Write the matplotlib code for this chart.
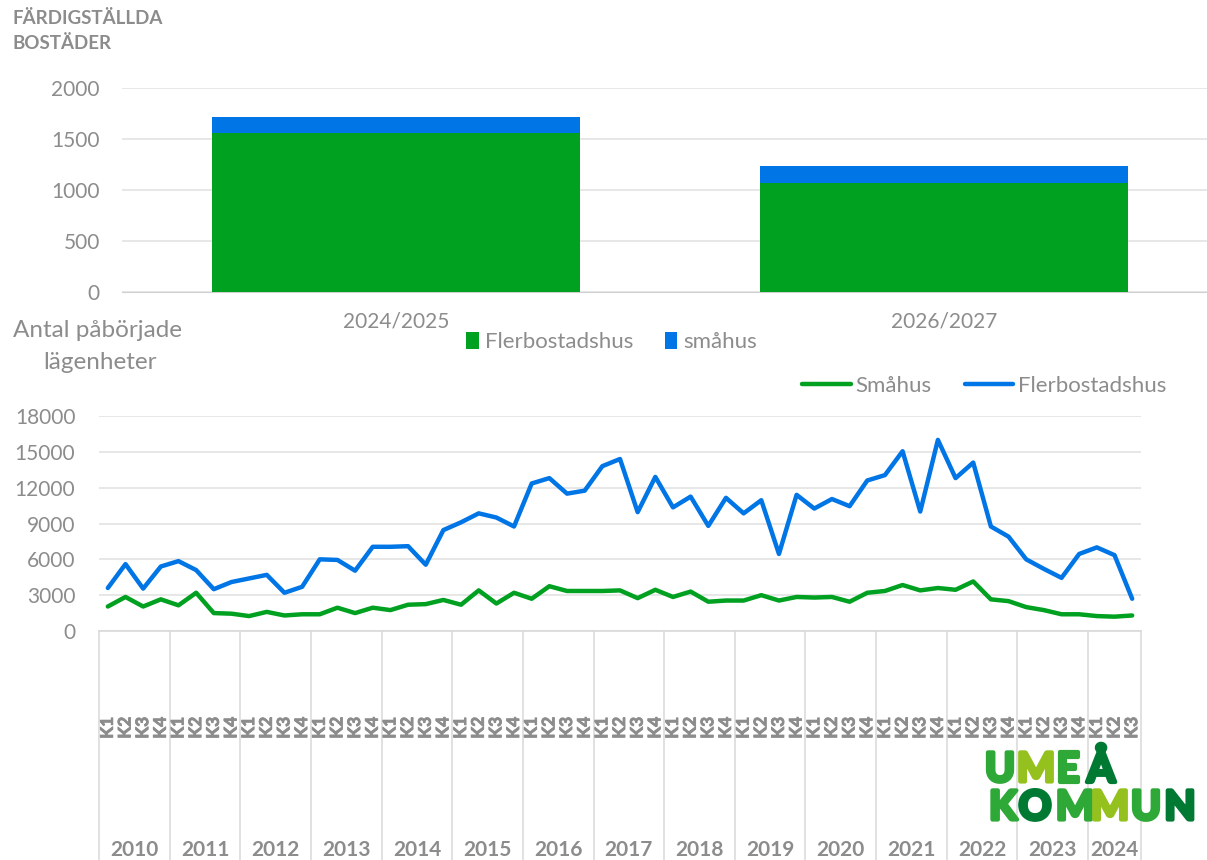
import matplotlib.pyplot as plt
import matplotlib.patheffects as pe
import numpy as np

plt.rcParams['font.family'] = ['Lato', 'DejaVu Sans']

GREEN = '#00a020'
BLUE = '#0075e6'
GREY = '#8c8c8c'
GRID = '#e3e3e3'

# Färdigställda bostäder (prognos)
perioder = ['2024/2025', '2026/2027']
flerbostadshus_klara = [1555, 1065]
smahus_klara = [165, 170]

# Påbörjade lägenheter per kvartal, 2010 K1 - 2024 K3
ar = [str(a) for a in range(2010, 2025)]
kvartal = ['K1', 'K2', 'K3', 'K4']
smahus = [2050, 2850, 2050, 2650, 2150, 3200, 1500, 1450, 1250, 1600, 1300, 1400,
          1400, 1950, 1500, 1950, 1750, 2200, 2250, 2600, 2200, 3400, 2300, 3200,
          2700, 3750, 3350, 3350, 3350, 3400, 2750, 3450, 2850, 3300, 2450, 2550,
          2550, 3000, 2550, 2850, 2800, 2850, 2450, 3200, 3350, 3850, 3400, 3600,
          3450, 4150, 2650, 2500, 2000, 1750, 1400, 1400, 1250, 1200, 1300]
flerbostadshus = [3600, 5600, 3550, 5400, 5850, 5100, 3500, 4100, 4400, 4700, 3200, 3700,
                  6000, 5950, 5050, 7050, 7050, 7100, 5550, 8450, 9100, 9850, 9500, 8750,
                  12350, 12800, 11500, 11750, 13800, 14400, 9950, 12900, 10350, 11250, 8800, 11150,
                  9850, 10950, 6450, 11400, 10250, 11050, 10450, 12600, 13050, 15050, 10000, 16000,
                  12800, 14100, 8750, 7900, 6000, 5200, 4450, 6450, 7000, 6350, 2700]

fig = plt.figure(figsize=(12.07, 8.6), dpi=100)

# ---- övre diagrammet ----
ax1 = fig.add_axes([122/1207, 1-292/860, (1207-122)/1207, 204/860])
x1 = np.arange(len(perioder))
ax1.bar(x1, flerbostadshus_klara, width=0.67, color=GREEN, label='Flerbostadshus', zorder=3)
ax1.bar(x1, smahus_klara, width=0.67, bottom=flerbostadshus_klara, color=BLUE, label='småhus', zorder=3)
ax1.set_xlim(-0.5, 1.48)
ax1.set_ylim(0, 2000)
ax1.set_yticks(range(0, 2001, 500))
ax1.set_xticks(x1)
ax1.set_xticklabels(perioder)
ax1.grid(axis='y', color=GRID, lw=1.2, zorder=0)
for s in ['top', 'right', 'left']:
    ax1.spines[s].set_visible(False)
ax1.spines['bottom'].set_color('#d0d0d0')
ax1.tick_params(axis='y', length=0, pad=16, labelsize=15, labelcolor=GREY)
ax1.tick_params(axis='x', length=0, pad=14, labelsize=15, labelcolor=GREY)
ax1.legend(loc='center', bbox_to_anchor=(612/1207, 1-342/860), bbox_transform=fig.transFigure,
           ncol=2, frameon=False, fontsize=16, labelcolor=GREY, handlelength=0.55,
           handleheight=0.85, handletextpad=0.3, columnspacing=1.4)
fig.text(12/1207, 1-10/860, 'FÄRDIGSTÄLLDA\nBOSTÄDER', ha='left', va='top',
         fontsize=13.5, fontweight='bold', color=GREY, linespacing=1.55)

# ---- nedre diagrammet ----
ax2 = fig.add_axes([99/1207, 1-631/860, (1141-99)/1207, 215/860])
n = len(smahus)
x2 = np.arange(n) + 0.5
ax2.plot(x2, smahus, color=GREEN, lw=3.2, label='Småhus', solid_capstyle='round', zorder=3)
ax2.plot(x2, flerbostadshus, color=BLUE, lw=3.2, label='Flerbostadshus', solid_capstyle='round', zorder=3)
ax2.set_xlim(0, n)
ax2.set_ylim(0, 18000)
ax2.set_yticks(range(0, 18001, 3000))
ax2.set_xticks([])
ax2.grid(axis='y', color=GRID, lw=1.2, zorder=0)
for s in ['top', 'right', 'left']:
    ax2.spines[s].set_visible(False)
ax2.spines['bottom'].set_color('#d9d9d9')
ax2.spines['bottom'].set_linewidth(1.2)
ax2.tick_params(axis='y', length=0, pad=17, labelsize=15, labelcolor=GREY)
ax2.legend(loc='center', bbox_to_anchor=(984/1207, 1-386/860), bbox_transform=fig.transFigure,
           ncol=2, frameon=False, fontsize=16, labelcolor=GREY, handlelength=2.2,
           handletextpad=0.2, columnspacing=1.5)
fig.text(13/1207, 1-320/860, 'Antal påbörjade', ha='left', va='top', fontsize=17.5, color=GREY)
fig.text(100/1207, 1-352/860, 'lägenheter', ha='center', va='top', fontsize=17.5, color=GREY)

# kategoriaxel: kvartal och år
trans = ax2.get_xaxis_transform()
grans = list(range(0, n, 4)) + [n]
for g in grans:
    ax2.plot([g, g], [0, -1.1], transform=trans, color='#dcdcdc', lw=1.2, clip_on=False)
for i in range(n):
    ax2.text(x2[i], -0.45, kvartal[i % 4], transform=trans, rotation=90, ha='center', va='center',
             fontsize=12.5, fontweight='bold', color=GREY,
             path_effects=[pe.withStroke(linewidth=0.6, foreground=GREY)])
for j, a in enumerate(ar):
    start = j * 4
    slut = min(start + 4, n)
    ax2.text((start + slut) / 2, -1.02, a, transform=trans, ha='center', va='center',
             fontsize=15, fontweight='bold', color=GREY)

# logotyp
lg1 = [('U', 1000, '#2ea836'), ('M', 1036, '#95c11f'), ('E', 1068, '#2ea836'), ('Å', 1101, '#007a33')]
lg2 = [('K', 1003, '#2ea836'), ('O', 1035, '#007a33'), ('M', 1075, '#2ea836'),
       ('M', 1110, '#95c11f'), ('U', 1146, '#2ea836'), ('N', 1180, '#007a33')]
for ch, px, c in lg1:
    fig.text(px/1207, 1-770/860, ch, ha='center', va='center', fontsize=29, fontweight='bold', color=c,
             path_effects=[pe.withStroke(linewidth=3, foreground=c)])
for ch, px, c in lg2:
    fig.text(px/1207, 1-808/860, ch, ha='center', va='center', fontsize=29, fontweight='bold', color=c,
             path_effects=[pe.withStroke(linewidth=3, foreground=c)])

fig.savefig('out.png', dpi=100)
